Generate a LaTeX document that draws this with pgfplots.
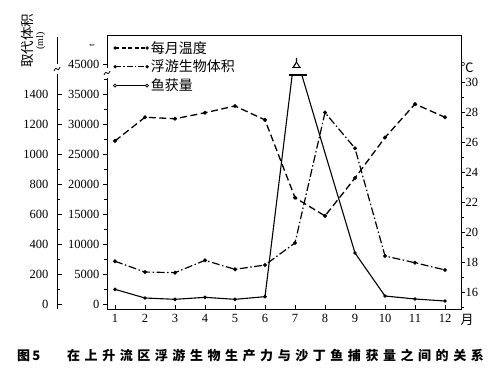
\documentclass[border=0pt]{standalone}
\usepackage{pgfplots}
\pgfplotsset{compat=1.18}
\usepackage{fontspec}
\setmainfont{Liberation Serif}
\newfontfamily\cjk{Noto Sans CJK SC}
\newfontfamily\numf{Liberation Serif}
\begin{document}
\begin{tikzpicture}[x=1pt,y=1pt]
\useasboundingbox (0,0) rectangle (500,380);
\pgfplotsset{
  base/.style={scale only axis, width=354pt, at={(107pt,71pt)}, anchor=south west,
    xmin=0.7333, xmax=12.5333, scaled y ticks=false, scaled x ticks=false,
    /pgf/number format/assume math mode=true, /pgf/number format/1000 sep={},
    tick label style={font=\numf\fontsize{12.5}{12.5}\selectfont},
    axis line style={line width=0.8pt}, tick style={line width=0.8pt, black},
    major tick length=4pt, minor tick length=3pt},
}
% fish catch (inner left scale), clipped at the break
\begin{axis}[base, height=234pt, ymin=-833.33, ymax=38166.67, hide axis, clip=true]
\addplot[black, line width=1.1pt, mark=*, mark size=1.2pt, mark indices={1,2,3,4,5,6,8,9,10,11,12}]
 coordinates {(1,2444)(2,1000)(3,778)(4,1111)(5,778)(6,1222)(7,42000)(8,25167)(9,8500)(10,1333)(11,833)(12,500)};
\end{axis}
% plankton volume (outer left scale)
\begin{axis}[base, height=274pt, ymin=-33.33, ymax=1793.33, hide axis]
\addplot[black, line width=1.2pt, dash pattern=on 8pt off 2.5pt on 1.5pt off 2.5pt, mark=*, mark size=1.3pt, mark options={solid}]
 coordinates {(1,285)(2,213)(3,209)(4,291)(5,231)(6,260)(7,407)(8,1276)(9,1038)(10,320)(11,275)(12,227)};
\end{axis}
% temperature (right scale)
\begin{axis}[base, height=274pt, ymin=14.8667, ymax=33.1333,
  axis y line*=right, axis x line=none, y axis line style={-},
  ytick={16,18,...,30}, minor ytick={15,17,...,29}, ytick align=outside,
  yticklabel style={xshift=-3pt}]
\addplot[black, line width=1.3pt, dash pattern=on 7pt off 3.5pt, mark=*, mark size=1.3pt, mark options={solid}]
 coordinates {(1,26.07)(2,27.65)(3,27.55)(4,27.95)(5,28.4)(6,27.47)(7,22.29)(8,21.07)(9,23.6)(10,26.3)(11,28.53)(12,27.65)};
\end{axis}
% main frame with inner left scale and legend
\begin{axis}[base, height=274pt, ymin=-833.33, ymax=44833.33,
  xtick={1,...,12}, xtick pos=bottom, ytick pos=left, xtick align=inside, ytick align=outside,
  ytick={0,5000,...,40000}, yticklabels={0,5000,10000,15000,20000,25000,30000,35000,45000},
  minor ytick={2500,7500,...,37500},
  xticklabel style={yshift=-2pt},
  legend style={at={(0.017,0.985)}, anchor=north west, draw=none, fill=none, inner sep=0pt,
    font=\cjk\fontsize{14}{15}\selectfont, row sep=1.5pt},
  legend cell align=left]
\addlegendimage{legend image code/.code={\draw[line width=1.2pt, dash pattern=on 4pt off 2.5pt] (0pt,0pt)--(32pt,0pt); \fill (0pt,0pt) circle (1.5pt); \fill (32pt,0pt) circle (1.5pt);}}
\addlegendentry{每月温度}
\addlegendimage{legend image code/.code={\draw[line width=1.2pt, dash pattern=on 6pt off 2pt on 1.5pt off 2pt] (0pt,0pt)--(32pt,0pt); \fill (0pt,0pt) circle (1.5pt); \fill (32pt,0pt) circle (1.5pt);}}
\addlegendentry{浮游生物体积}
\addlegendimage{legend image code/.code={\draw[line width=0.9pt] (1.5pt,0pt)--(30.5pt,0pt); \draw[line width=0.7pt] (0pt,0pt) circle (1.5pt); \draw[line width=0.7pt] (32pt,0pt) circle (1.5pt);}}
\addlegendentry{鱼获量}
\end{axis}
% outer left scale
\begin{axis}[scale only axis, width=10pt, height=272pt, at={(57pt,71pt)}, anchor=south west,
  xmin=0, xmax=1, ymin=-33.33, ymax=1780, scaled y ticks=false,
  axis y line=left, axis x line=none, y axis line style={-, line width=0.8pt},
  tick style={line width=0.8pt, black}, major tick length=5pt, minor tick length=3pt,
  ytick={0,200,...,1400}, minor ytick={100,300,...,1300}, ytick align=inside,
  /pgf/number format/assume math mode=true, /pgf/number format/1000 sep={},
  tick label style={font=\numf\fontsize{12.5}{12.5}\selectfont},
  yticklabel style={xshift=-5pt}]
\end{axis}
% axis breaks and decorations
\fill[white] (55,306) rectangle (59,316);
\draw[line width=0.8pt] (54,309) .. controls (57,316) and (57,306) .. (60,313);
\fill[white] (105,302) rectangle (109,312);
\draw[line width=0.8pt] (104,305) .. controls (107,312) and (107,302) .. (110,309);
\draw[line width=1.4pt] (289,305)--(307,305);
\draw[line width=1pt] (292,312.5)--(301,312.5);
\draw[line width=1.2pt] (296.5,322)--(296.5,318)--(293.5,313);
\draw[line width=1pt] (296.5,318)--(299.5,313);
\node[rotate=90, font=\numf\fontsize{9}{9}\selectfont] at (92,335) {t};
% labels
\node[rotate=90, align=center, inner sep=0pt] at (33,339) {{\cjk\fontsize{13.5}{15}\selectfont 取代体积}\\[-1pt]{\numf\fontsize{10}{10}\selectfont (ml)}};
\node[font=\cjk\fontsize{13}{13}\selectfont] at (467,312) {℃};
\node[font=\cjk\fontsize{13}{13}\selectfont] at (467,60) {月};
\node[anchor=west, inner sep=0pt, font=\cjk\bfseries\fontsize{13}{13}\selectfont] at (17,24) {图\,5};
\node[anchor=west, inner sep=0pt, font=\cjk\bfseries\fontsize{13}{13}\selectfont] at (67,24) {\addfontfeature{LetterSpace=35}在上升流区浮游生物生产力与沙丁鱼捕获量之间的关系};
\end{tikzpicture}
\end{document}
